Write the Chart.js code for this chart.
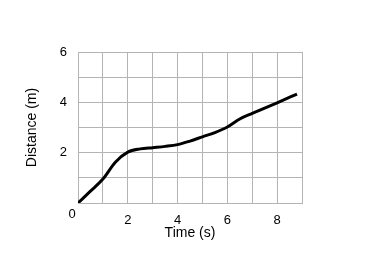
<!DOCTYPE html>
<html>
<head>
<meta charset="utf-8">
<script src="https://cdn.jsdelivr.net/npm/chart.js@4"></script>
<style>
    html, body { margin: 0; padding: 0; background: #fff; }
    #wrap { width: 382px; height: 257px; }
</style>
</head>
<body>
<div id="wrap"><canvas id="chart"></canvas></div>
<script>
// Werte
const timeValues = [0, 0.5, 1, 1.5, 2, 2.5, 3, 3.5, 4, 4.5, 5, 5.5, 6, 6.5, 7, 7.5, 8, 8.8];
const distanceValues = [0, 0.47, 0.95, 1.62, 2.02, 2.15, 2.2, 2.25, 2.32, 2.46, 2.63, 2.8, 3.02, 3.34, 3.56, 3.77, 3.98, 4.33];
const xTickLabels = [2, 4, 6, 8];
const yTickLabels = [2, 4, 6];
const originLabel = '0';

const points = timeValues.map((t, i) => ({ x: t, y: distanceValues[i] }));
const fontFamily = '"Liberation Sans", Arial, sans-serif';
const gridColor = '#b4b4b4';

// "0" unten links an der Ecke zeichnen
const originPlugin = {
    id: 'originLabel',
    afterDraw(chart) {
        const ctx = chart.ctx;
        const x = chart.scales.x.getPixelForValue(0);
        const y = chart.scales.y.getPixelForValue(0);
        ctx.save();
        ctx.font = '13px ' + fontFamily;
        ctx.fillStyle = '#000';
        ctx.textAlign = 'center';
        ctx.textBaseline = 'middle';
        ctx.fillText(originLabel, x - 6, y + 11);
        ctx.restore();
    }
};

new Chart(document.getElementById('chart'), {
    type: 'line',
    data: {
        datasets: [{
            data: points,
            borderColor: '#000',
            borderWidth: 3,
            pointRadius: 0,
            fill: false,
            cubicInterpolationMode: 'monotone'
        }]
    },
    options: {
        responsive: true,
        maintainAspectRatio: false,
        animation: false,
        layout: { padding: { left: 25, top: 52, right: 80, bottom: 17 } },
        plugins: { legend: { display: false }, tooltip: { enabled: false } },
        scales: {
            x: {
                type: 'linear',
                min: 0,
                max: 9,
                afterFit: scale => { scale.height = 37; },
                grid: { color: gridColor, drawTicks: false },
                border: { color: gridColor },
                ticks: {
                    stepSize: 1,
                    padding: 11,
                    maxRotation: 0,
                    autoSkip: false,
                    color: '#000',
                    font: { family: fontFamily, size: 13, lineHeight: 1 },
                    callback: v => xTickLabels.includes(v) ? String(v) : ''
                },
                title: {
                    display: true,
                    text: 'Time (s)',
                    color: '#000',
                    padding: 0,
                    font: { family: fontFamily, size: 14, lineHeight: 1 }
                }
            },
            y: {
                type: 'linear',
                min: 0,
                max: 6,
                afterFit: scale => { scale.width = 53; },
                grid: { color: gridColor, drawTicks: false },
                border: { color: gridColor },
                ticks: {
                    stepSize: 1,
                    padding: 11,
                    autoSkip: false,
                    color: '#000',
                    font: { family: fontFamily, size: 13, lineHeight: 1 },
                    callback: v => yTickLabels.includes(v) ? String(v) : ''
                },
                title: {
                    display: true,
                    text: 'Distance (m)',
                    color: '#000',
                    padding: 0,
                    font: { family: fontFamily, size: 14, lineHeight: 1 }
                }
            }
        }
    },
    plugins: [originPlugin]
});
</script>
</body>
</html>
